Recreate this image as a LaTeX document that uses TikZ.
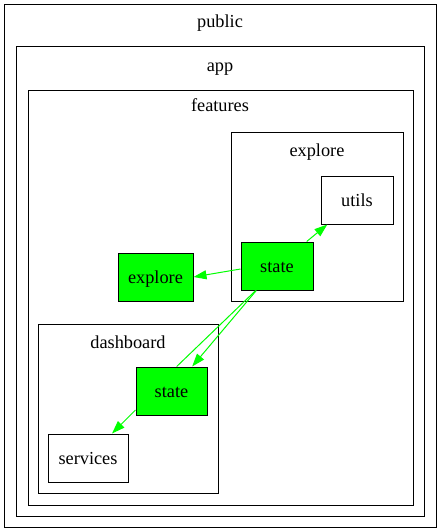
\documentclass[tikz,border=0pt]{standalone}
\usepackage{fontspec}
\setmainfont{Liberation Serif}
\usetikzlibrary{arrows.meta}
\definecolor{gvgreen}{HTML}{00FF00}
\begin{document}
\begin{tikzpicture}[x=1pt,y=-1pt,
  cluster/.style={draw, line width=1pt, inner sep=0pt, anchor=north west},
  clabel/.style={font=\fontsize{18.3}{21}\selectfont, inner sep=0pt, anchor=base},
  box/.style={draw, line width=1pt, minimum height=48pt, inner sep=0pt, text height=12.5pt, text depth=0.5pt, font=\fontsize{18.3}{21}\selectfont},
  gbox/.style={box, fill=gvgreen},
  edge/.style={draw=gvgreen, line width=1pt, -{Triangle[length=13pt,width=9pt,fill=gvgreen]}},
  plain/.style={draw=gvgreen, line width=1pt}]
\useasboundingbox (0,0) rectangle (440,532);
\node[cluster, minimum width=432pt, minimum height=522pt] (public) at (4,4.5) {};
\node[clabel] (publiclbl) at (220,28) {public};
\node[cluster, minimum width=408pt, minimum height=470pt] (app) at (16,46) {};
\node[clabel] (applbl) at (220,72) {app};
\node[cluster, minimum width=385pt, minimum height=415pt] (features) at (28,90) {};
\node[clabel] (featureslbl) at (220,112) {features};
\node[cluster, minimum width=172pt, minimum height=169pt] (explorec) at (231,132) {};
\node[clabel] (explorelbl) at (317,156) {explore};
\node[cluster, minimum width=180pt, minimum height=169pt] (dashc) at (38,324) {};
\node[clabel] (dashlbl) at (128,348) {dashboard};

\node[box, minimum width=72pt] (utils) at (357,200) {utils};
\node[gbox, minimum width=72pt] (se) at (277,266) {state};
\node[gbox, minimum width=75pt] (ex) at (155.5,277) {explore};
\node[gbox, minimum width=71pt] (ds) at (171.5,391) {state};
\node[box, minimum width=80pt] (serv) at (88,458) {services};

\draw[edge] (se) -- (utils);
\draw[edge] ([yshift=-3pt]se.west) -- (ex.east);
\draw[edge] (se) -- (ds);
\draw[plain] ([xshift=-21.3pt]se.south) -- ([xshift=5.2pt]ds.north);
\draw[edge] ([yshift=-19pt]ds.west) -- ([xshift=24pt]serv.north);
\end{tikzpicture}
\end{document}
